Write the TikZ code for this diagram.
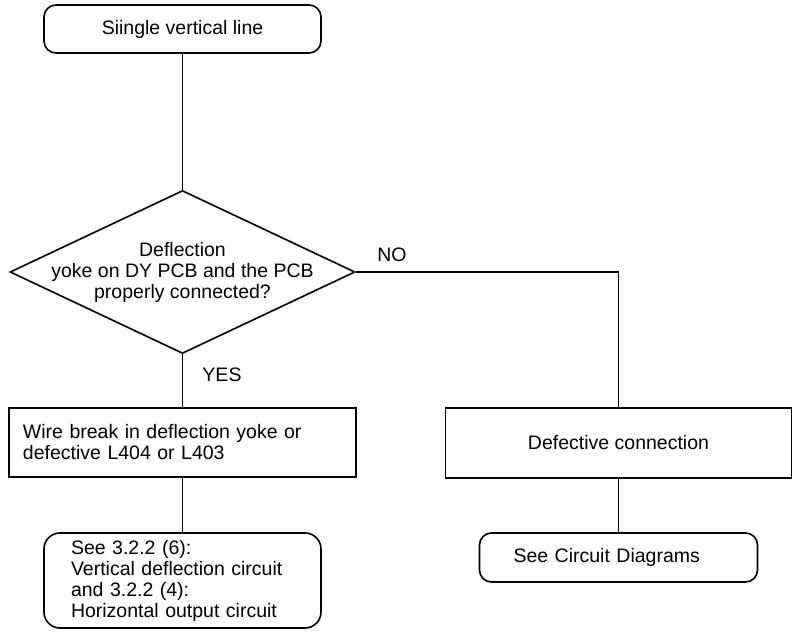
\documentclass[tikz,border=0pt]{standalone}
\usepackage{fontspec}
\setmainfont{Liberation Sans}
\usetikzlibrary{shapes.geometric}
\begin{document}
\begin{tikzpicture}[x=1pt,y=-1pt,
  font=\fontsize{19.5}{21}\selectfont,
  trait/.style={line width=1.6pt},
  boite/.style={draw,line width=1.6pt,inner sep=0pt},
  arrondi/.style={boite,rounded corners=12pt},
  losange/.style={draw,diamond,line width=1.6pt,inner sep=0pt,minimum width=345pt,minimum height=163pt}]
  \useasboundingbox (0,0) rectangle (793,636);

  % Depart
  \node[arrondi,minimum width=277pt,minimum height=48pt] (depart) at (182.5,29) {Siingle vertical line};

  % Test
  \node[losange,label={[align=center]center:Deflection\\yoke on DY PCB and the PCB\\properly connected?}] (test) at (182.5,272) {};

  % Branche YES
  \node[boite,minimum width=347pt,minimum height=69pt,text width=319pt,align=left] (rupture) at (182.5,442.5) {Wire break in deflection yoke or\\defective L404 or L403};
  \node[arrondi,rounded corners=16pt,minimum width=277pt,minimum height=95pt,text width=223pt,align=left] (voir) at (182.5,580.5) {See 3.2.2 (6):\\Vertical deflection circuit\\and 3.2.2 (4):\\Horizontal output circuit};

  % Branche NO
  \node[boite,minimum width=346pt,minimum height=70pt] (defaut) at (618.5,443) {Defective connection};
  \node[arrondi,minimum width=278pt,minimum height=49pt,text width=210pt,align=left] (schemas) at (618.5,557.5) {See Circuit Diagrams};

  % Reponses
  \node (oui) at (222,375) {YES};
  \node (non) at (392,255) {NO};

  % Liaisons
  \draw[trait] (depart.south) -- (test.north);
  \draw[trait] (test.south) -- (rupture.north);
  \draw[trait] (rupture.south) -- (voir.north);
  \draw[trait] (test.east) -| (defaut.north);
  \draw[trait] (defaut.south) -- (schemas.north);
\end{tikzpicture}
\end{document}
